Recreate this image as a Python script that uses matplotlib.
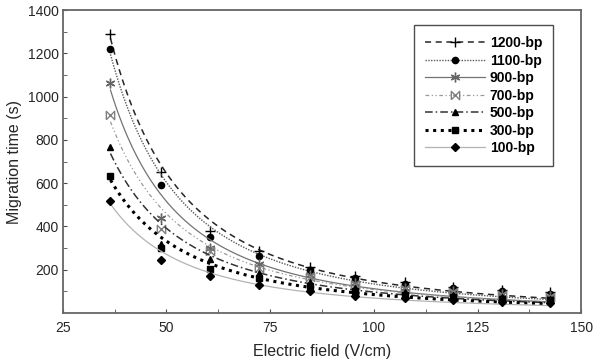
import numpy as np
import matplotlib
matplotlib.use("Agg")
import matplotlib.pyplot as plt

plt.rcParams['font.family'] = ['Liberation Sans', 'DejaVu Sans']

# electric field (V/cm) and migration times (s)
field = [36.5, 48.7, 60.4, 72.3, 84.5, 95.5, 107.5, 119, 131, 142.5]

t_1200 = [1290, 650, 378, 285, 215, 170, 145, 122, 105, 95]
t_1100 = [1220, 590, 350, 265, 200, 160, 135, 115, 100, 90]
t_900 = [1065, 440, 300, 225, 175, 140, 118, 102, 90, 80]
t_700 = [915, 390, 285, 210, 165, 130, 110, 95, 84, 75]
t_500 = [765, 320, 250, 185, 145, 115, 98, 85, 75, 67]
t_300 = [635, 300, 205, 160, 125, 100, 85, 74, 65, 58]
t_100 = [520, 245, 170, 130, 100, 80, 68, 60, 53, 47]

labels = ['1200-bp', '1100-bp', '900-bp', '700-bp', '500-bp', '300-bp', '100-bp']
series = [t_1200, t_1100, t_900, t_700, t_500, t_300, t_100]

bowtie = [(-1, -1), (1, 1), (1, -1), (-1, 1), (-1, -1)]

styles = [
    dict(ls=(0, (4, 3)), color='0.15', lw=1.1, marker='+', ms=7, mfc='k', mec='k'),
    dict(ls=(0, (1, 1)), color='0.35', lw=1.0, marker='o', ms=4.5, mfc='k', mec='k'),
    dict(ls='-', color='0.45', lw=0.9, marker=(6, 2, 0), ms=7, mfc='0.4', mec='0.4'),
    dict(ls=(0, (3, 2, 1, 2, 1, 2)), color='0.6', lw=0.9, marker=bowtie, ms=6, mfc='none', mec='0.5'),
    dict(ls=(0, (5, 2, 1, 2)), color='0.2', lw=1.1, marker='^', ms=5, mfc='k', mec='k'),
    dict(ls=(0, (1, 1.5)), color='k', lw=2.2, marker='s', ms=4.5, mfc='k', mec='k'),
    dict(ls='-', color='0.7', lw=0.9, marker='D', ms=4.5, mfc='k', mec='k'),
]

fig = plt.figure(figsize=(5.98, 3.59), dpi=100)
ax = fig.add_axes([0.105, 0.128, 0.867, 0.844])

xs = np.linspace(36.5, 143, 300)
handles = []
for lab, t, st in zip(labels, series, styles):
    # power-law fit t = a*E^b, weighted towards the long migration times
    t = np.array(t, dtype=float)
    b, a = np.polyfit(np.log(field), np.log(t), 1, w=t)
    ax.plot(xs, np.exp(a) * xs ** b, ls=st['ls'], color=st['color'], lw=st['lw'])
    ax.plot(field, t, ls='none', marker=st['marker'], ms=st['ms'],
            mfc=st['mfc'], mec=st['mec'], mew=1.0)
    h, = ax.plot([], [], ls=st['ls'], color=st['color'], lw=st['lw'],
                 marker=st['marker'], ms=st['ms'], mfc=st['mfc'], mec=st['mec'], mew=1.0)
    handles.append(h)

ax.set_xlim(25, 150)
ax.set_ylim(0, 1400)
ax.set_xticks([25, 50, 75, 100, 125, 150])
ax.set_xticks(np.arange(37.5, 150, 25), minor=True)
ax.set_yticks([200, 400, 600, 800, 1000, 1200, 1400])
ax.set_yticks(np.arange(100, 1400, 200), minor=True)
ax.tick_params(which='both', direction='in', length=3, color='0.3',
               labelsize=10, labelcolor='0.15')
ax.tick_params(axis='x', pad=6)
ax.tick_params(axis='y', pad=3)

for sp in ax.spines.values():
    sp.set_color('0.4')
    sp.set_linewidth(1.3)

ax.set_xlabel('Electric field (V/cm)', fontsize=11.5, color='0.15', labelpad=6)
ax.set_ylabel('Migration time (s)', fontsize=11.5, color='0.15', labelpad=4)

leg = ax.legend(handles, labels, loc='upper right', bbox_to_anchor=(0.946, 0.95),
                borderaxespad=0, fancybox=False, framealpha=1, edgecolor='0.3',
                prop={'weight': 'bold', 'size': 10}, handlelength=4.3,
                labelspacing=0.25, borderpad=0.8, handletextpad=0.35)
leg.get_frame().set_linewidth(1.0)

fig.savefig('out.png', dpi=100)
